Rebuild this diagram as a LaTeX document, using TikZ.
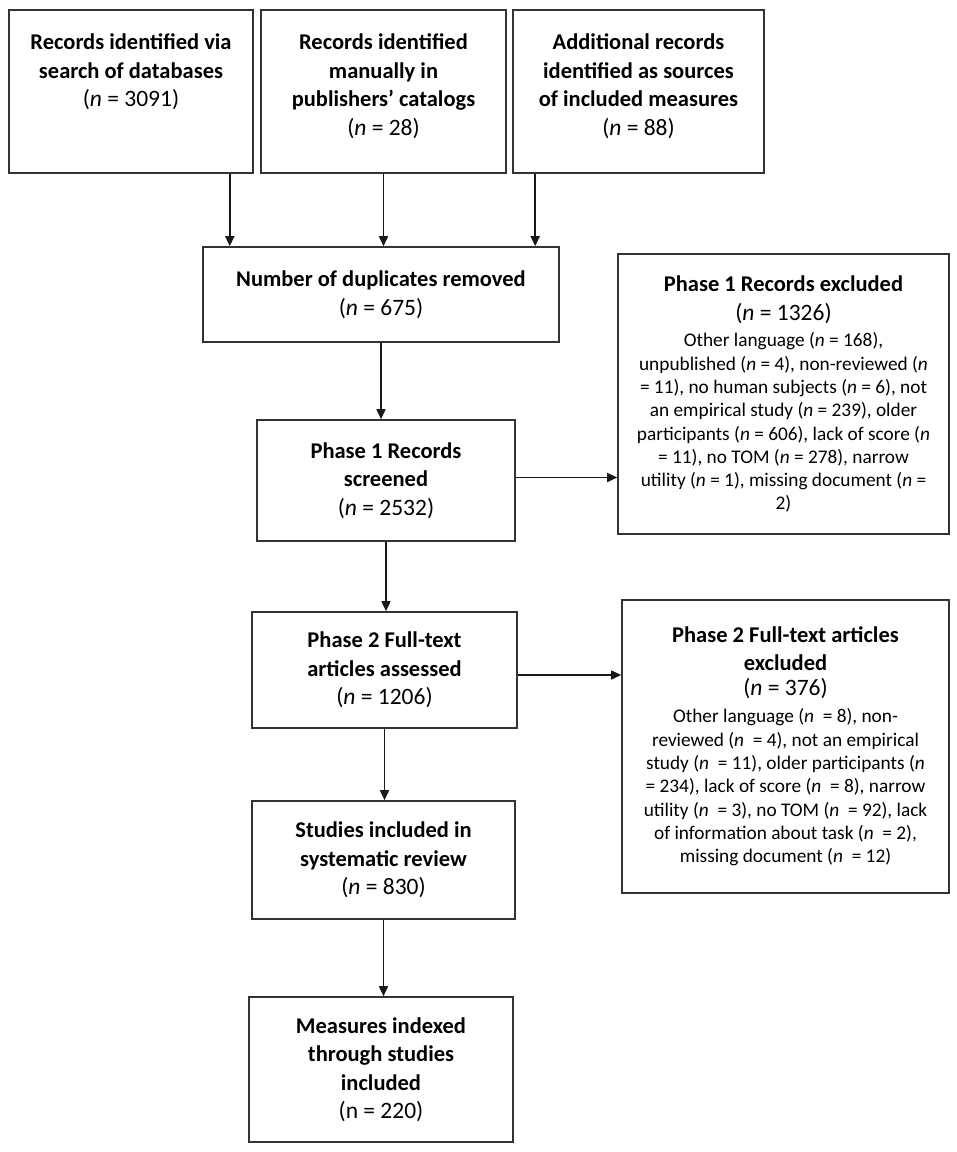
\documentclass[tikz,border=0pt]{standalone}
\usepackage{fontspec}
\setmainfont{Carlito}
\usetikzlibrary{arrows.meta}

\tikzset{
	flowbox/.style={draw=black!80, line width=1.6pt, fill=white, align=center, inner sep=0pt},
	bigtext/.style={font=\fontsize{22.5}{28.5}\selectfont},
	smalltext/.style={font=\fontsize{19.3}{23.3}\selectfont},
	flow/.style={-{Triangle[length=10pt,width=9pt]}, line width=1.6pt, black!90}
}
\newcommand{\headfont}{\fontsize{22.5}{28.5}\selectfont\bfseries}
\newcommand{\countfont}{\fontsize{23.5}{28.5}\selectfont}

\begin{document}
\begin{tikzpicture}[x=1pt,y=-1pt]
	\useasboundingbox[fill=white] (0,0) rectangle (957,1152);
	% sources
	\node[flowbox, minimum width=244pt, minimum height=163pt] (db) at (131,91.5) {};
	\node[flowbox, minimum width=245pt, minimum height=163pt] (manual) at (383.5,91.5) {};
	\node[flowbox, minimum width=251pt, minimum height=163pt] (extra) at (638.5,91.5) {};
	\node[bigtext, align=center, anchor=north] (dbtext) at ([yshift=-21pt]db.north)
		{\textbf{Records identified via}\\\textbf{search of databases}\\{\countfont(\textit{n} = 3091)}};
	\node[bigtext, align=center, anchor=north] (manualtext) at ([yshift=-21pt]manual.north)
		{\textbf{Records identified}\\\textbf{manually in}\\\textbf{publishers’ catalogs}\\{\countfont(\textit{n} = 28)}};
	\node[bigtext, align=center, anchor=north] (extratext) at ([yshift=-21pt]extra.north)
		{\textbf{Additional records}\\\textbf{identified as sources}\\\textbf{of included measures}\\{\countfont(\textit{n} = 88)}};
		% main column
		\node[flowbox, bigtext, minimum width=356pt, minimum height=95pt] (dup) at (381,294.5)
			{\textbf{Number of duplicates removed}\\{\countfont(\textit{n} = 675)}};
		\node[flowbox, bigtext, minimum width=258pt, minimum height=121pt] (screened) at (386,480.5)
			{\textbf{Phase 1 Records}\\\textbf{screened}\\{\countfont(\textit{n} = 2532)}};
		\node[flowbox, bigtext, minimum width=265pt, minimum height=116pt] (assessed) at (384.5,670)
			{\textbf{Phase 2 Full-text}\\\textbf{articles assessed}\\{\countfont(\textit{n} = 1206)}};
		\node[flowbox, bigtext, minimum width=263pt, minimum height=118pt] (included) at (383.5,860)
			{\textbf{Studies included in}\\\textbf{systematic review}\\{\countfont(\textit{n} = 830)}};
		\node[flowbox, bigtext, minimum width=264pt, minimum height=145pt] (measures) at (381,1069.5)
			{\textbf{Measures indexed}\\\textbf{through studies}\\\textbf{included}\\{\countfont(n = 220)}};
			% exclusions
			\node[flowbox, smalltext, minimum width=331pt, minimum height=280pt] (excl1) at (783.5,394)
				{{\headfont Phase 1 Records excluded}\\[6pt]
				{\countfont(\textit{n} = 1326)}\\[3pt]
				Other language (\textit{n} = 168),\\
				unpublished (\textit{n} = 4), non-reviewed (\textit{n}\\
				= 11), no human subjects (\textit{n} = 6), not\\
				an empirical study (\textit{n} = 239), older\\
				participants (\textit{n} = 606), lack of score (\textit{n}\\
				= 11), no TOM (\textit{n} = 278), narrow\\
				utility (\textit{n} = 1), missing document (\textit{n} =\\
				2)};
			\node[flowbox, smalltext, minimum width=327pt, minimum height=293pt] (excl2) at (785.5,746.5)
				{{\headfont Phase 2 Full-text articles}\\[4pt]
				{\headfont excluded}\\[2pt]
				{\countfont(\textit{n} = 376)}\\[4pt]
				Other language (\textit{n}~ = 8), non-\\
				reviewed (\textit{n}~ = 4), not an empirical\\
				study (\textit{n}~ = 11), older participants (\textit{n}\\
				= 234), lack of score (\textit{n}~ = 8), narrow\\
				utility (\textit{n}~ = 3), no TOM (\textit{n}~ = 92), lack\\
				of information about task (\textit{n}~ = 2),\\
				missing document (\textit{n}~ = 12)};
	\draw[flow] ([xshift=-24pt]db.south east) -- ([xshift=-24pt]db.south east |- dup.north);
	\draw[flow] (manual.south) -- (manual.south |- dup.north);
	\draw[flow] ([xshift=23pt]extra.south west) -- ([xshift=23pt]extra.south west |- dup.north);
	\draw[flow] (dup.south) -- (dup.south |- screened.north);
	\draw[flow] ([yshift=3pt]screened.east) -- ([yshift=3pt]screened.east -| excl1.west);
	\draw[flow] (screened.south) -- (screened.south |- assessed.north);
	\draw[flow] ([yshift=-5pt]assessed.east) -- ([yshift=-5pt]assessed.east -| excl2.west);
	\draw[flow] (assessed.south) -- (assessed.south |- included.north);
	\draw[flow] (included.south) -- (included.south |- measures.north);
\end{tikzpicture}
\end{document}
